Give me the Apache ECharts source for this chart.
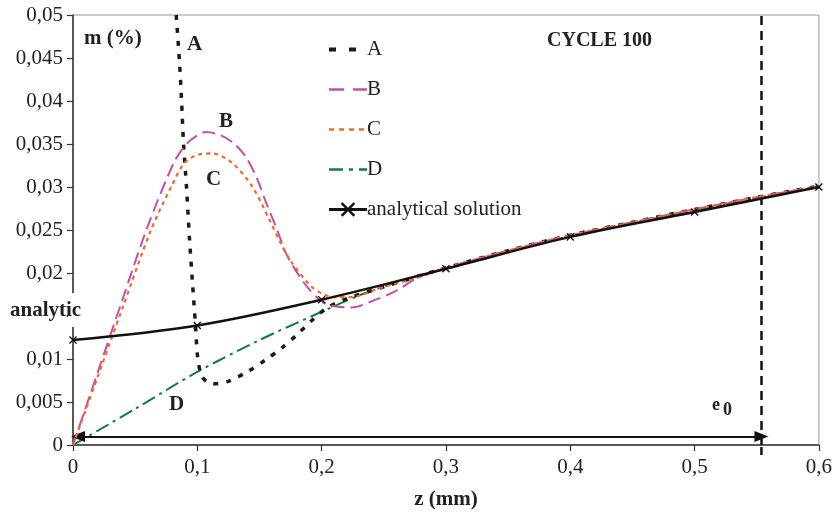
<!DOCTYPE html>
<html><head><meta charset="utf-8">
<script src="https://cdn.jsdelivr.net/npm/echarts@6/dist/echarts.min.js"></script>
<style>html,body{margin:0;padding:0;background:#fff}#c{width:835px;height:515px}</style>
</head><body><div id="c"></div>
<script>
const xTicks = [0, 0.1, 0.2, 0.3, 0.4, 0.5, 0.6];
const seriesNames = ['A', 'B', 'C', 'D', 'analytical solution'];
const analyticZ = [0, 0.1, 0.2, 0.3, 0.4, 0.5, 0.6];
const analyticM = [0.0122, 0.0139, 0.0169, 0.0205, 0.0242, 0.0271, 0.0300];
const curveA = [[0.0830,0.0500],[0.0857,0.0445],[0.0873,0.0401],[0.0889,0.0351],[0.0913,0.0300],[0.0937,0.0240],[0.0961,0.0189],[0.0985,0.0140],[0.1003,0.0102],[0.104,0.0079],[0.112,0.0071],[0.125,0.0074],[0.14,0.0085],[0.155,0.0099],[0.168,0.0113],[0.18,0.0128],[0.193,0.0146],[0.205,0.0160],[0.22,0.0170],[0.25,0.0184],[0.275,0.0195],[0.3,0.0206],[0.35,0.0226],[0.4,0.0244],[0.45,0.0259],[0.5,0.0274],[0.55,0.0288],[0.6,0.0301]];
const curveB = [[0.0,0.0],[0.02,0.0085],[0.04,0.0170],[0.06,0.0254],[0.0817,0.0330],[0.0913,0.0350],[0.1,0.0360],[0.107,0.0364],[0.119,0.0360],[0.13,0.0350],[0.139,0.0335],[0.148,0.0310],[0.155,0.0283],[0.164,0.0251],[0.171,0.0224],[0.18,0.0201],[0.19,0.0181],[0.2,0.0167],[0.2075,0.0162],[0.224,0.0160],[0.2435,0.0169],[0.2595,0.0179],[0.278,0.0195],[0.3,0.0206],[0.35,0.0226],[0.4,0.0244],[0.45,0.0259],[0.5,0.0274],[0.55,0.0288],[0.6,0.0301]];
const curveC = [[0.0,0.0],[0.02,0.0080],[0.04,0.0160],[0.063,0.0251],[0.080,0.0303],[0.0897,0.0328],[0.1017,0.0338],[0.112,0.0339],[0.128,0.0328],[0.144,0.0301],[0.158,0.0262],[0.167,0.0235],[0.176,0.0212],[0.192,0.0184],[0.202,0.0175],[0.2115,0.0172],[0.224,0.0172],[0.248,0.0183],[0.278,0.0195],[0.3,0.0206],[0.35,0.0226],[0.4,0.0244],[0.45,0.0259],[0.5,0.0274],[0.55,0.0288],[0.6,0.0301]];
const curveD = [[0.0,0.0],[0.05,0.0042],[0.1,0.0085],[0.15,0.0122],[0.1955,0.0152],[0.232,0.0175],[0.262,0.0190],[0.288,0.0201],[0.3,0.0205],[0.35,0.0225],[0.4,0.0243],[0.45,0.0258],[0.5,0.0273],[0.55,0.0287],[0.6,0.0300]];
const hiddenYLabel = 0.015;
const e0 = 0.5538;
const arrowStart = 0.004;
const arrowLevel = 0.001;

const FONT = '"Liberation Serif", "Times New Roman", serif';
const fmt = v => String(Math.round(v * 1000) / 1000).replace('.', ',');
const xMark = 'path://M0,1.2L1.2,0L5,3.8L8.8,0L10,1.2L6.2,5L10,8.8L8.8,10L5,6.2L1.2,10L0,8.8L3.8,5Z';

const chart = echarts.init(document.getElementById('c'));
chart.setOption({
  animation: false,
  backgroundColor: '#fff',
  grid: { left: 73, right: 14, top: 15, bottom: 69, show: true, borderColor: '#999', borderWidth: 1 },
  xAxis: {
    type: 'value', min: 0, max: 0.6, interval: 0.1,
    name: 'z (mm)', nameLocation: 'middle', nameGap: 44,
    nameTextStyle: { fontFamily: FONT, fontWeight: 'bold', fontSize: 21, color: '#222' },
    axisLine: { show: true, onZero: false, lineStyle: { color: '#333', width: 1.5 } },
    axisTick: { show: true, inside: false, length: 6, lineStyle: { color: '#333', width: 1.2 } },
    axisLabel: { formatter: fmt, fontFamily: FONT, fontSize: 21, color: '#222', margin: 12 },
    splitLine: { show: false }
  },
  yAxis: {
    type: 'value', min: 0, max: 0.05, interval: 0.005,
    axisLine: { show: true, onZero: false, lineStyle: { color: '#333', width: 1.5 } },
    axisTick: { show: true, inside: false, length: 6, lineStyle: { color: '#333', width: 1.2 } },
    axisLabel: { formatter: v => (Math.abs(v - hiddenYLabel) < 1e-9 ? '' : fmt(v)), fontFamily: FONT, fontSize: 21, color: '#222', margin: 10 },
    splitLine: { show: false }
  },
  legend: {
    left: 322, top: 34, orient: 'vertical', itemGap: 19, itemWidth: 38, itemHeight: 18,
    data: [
      { name: 'A', itemStyle: { opacity: 0 }, lineStyle: { width: 4, type: [7, 13] } },
      { name: 'B', itemStyle: { opacity: 0 }, lineStyle: { width: 2.5, type: [15, 9] } },
      { name: 'C', itemStyle: { opacity: 0 }, lineStyle: { width: 2.5, type: [5, 5] } },
      { name: 'D', itemStyle: { opacity: 0 }, lineStyle: { width: 2.5, type: [14, 6, 4, 6] } },
      { name: 'analytical solution', lineStyle: { width: 3 } }
    ],
    textStyle: { fontFamily: FONT, fontSize: 21, color: '#222', lineHeight: 18, padding: [0, 0, 0, -5] },
    selectedMode: false
  },
  series: [
    { name: 'A', type: 'line', data: curveA, smooth: 0.3, symbol: 'none', clip: true,
      lineStyle: { color: '#1a1a1a', width: 3.5, type: [5, 8] }, itemStyle: { color: '#1a1a1a' }, z: 3 },
    { name: 'B', type: 'line', data: curveB, smooth: 0.3, symbol: 'none',
      lineStyle: { color: '#c250a8', width: 2, type: [13, 6] }, itemStyle: { color: '#c250a8' }, z: 4 },
    { name: 'C', type: 'line', data: curveC, smooth: 0.3, symbol: 'none',
      lineStyle: { color: '#f2692a', width: 2.2, type: [4, 4] }, itemStyle: { color: '#f2692a' }, z: 5 },
    { name: 'D', type: 'line', data: curveD, smooth: 0.3, symbol: 'none',
      lineStyle: { color: '#0e7d3c', width: 2, type: [14, 5, 3, 5] }, itemStyle: { color: '#0e7d3c' }, z: 2 },
    { name: 'analytical solution', type: 'line', data: analyticZ.map((z, i) => [z, analyticM[i]]),
      smooth: 0.35, symbol: xMark, symbolSize: 8, showSymbol: true,
      lineStyle: { color: '#111', width: 2.5 }, itemStyle: { color: '#111' }, z: 6,
      markLine: {
        silent: true, animation: false, label: { show: false },
        data: [
          [ { coord: [e0, 0], symbol: 'none' }, { coord: [e0, 0.05], symbol: 'none',
              lineStyle: { color: '#111', width: 2.5, type: [9, 6] } } ],
          [ { coord: [arrowStart, arrowLevel], symbol: 'triangle', symbolSize: [11, 14] },
            { coord: [e0, arrowLevel], symbol: 'triangle', symbolSize: [11, 14],
              lineStyle: { color: '#111', width: 1.8, type: 'solid' } } ]
        ],
        lineStyle: { color: '#111' }
      }
    }
  ]
});

const p0 = chart.convertToPixel({ gridIndex: 0 }, [e0, 0]);
chart.setOption({
  graphic: [
    { type: 'line', shape: { x1: p0[0], y1: p0[1] + 2, x2: p0[0], y2: p0[1] + 10 }, style: { stroke: '#111', lineWidth: 2.5 }, z: 40 },
    { type: 'rect', left: 68, top: 293, shape: { width: 10, height: 34 }, style: { fill: '#fff' }, z: 50 },
    { type: 'text', left: 10, top: 300, style: { text: 'analytic', font: 'bold 21px ' + FONT, fill: '#222' }, z: 51 },
    { type: 'text', left: 84, top: 28, style: { text: 'm (%)', font: 'bold 21px ' + FONT, fill: '#222' }, z: 51 },
    { type: 'text', left: 187, top: 34, style: { text: 'A', font: 'bold 21px ' + FONT, fill: '#222' }, z: 51 },
    { type: 'text', left: 219, top: 111, style: { text: 'B', font: 'bold 21px ' + FONT, fill: '#222' }, z: 51 },
    { type: 'text', left: 206, top: 169, style: { text: 'C', font: 'bold 21px ' + FONT, fill: '#222' }, z: 51 },
    { type: 'text', left: 169, top: 394, style: { text: 'D', font: 'bold 21px ' + FONT, fill: '#222' }, z: 51 },
    { type: 'text', left: 547, top: 31, style: { text: 'CYCLE 100', font: 'bold 20px ' + FONT, fill: '#222' }, z: 51 },
    { type: 'text', left: 712, top: 396, style: { text: 'e', font: 'bold 18px ' + FONT, fill: '#222' }, z: 51 },
    { type: 'text', left: 723, top: 401, style: { text: '0', font: 'bold 18px ' + FONT, fill: '#222' }, z: 51 }
  ]
});
</script></body></html>
